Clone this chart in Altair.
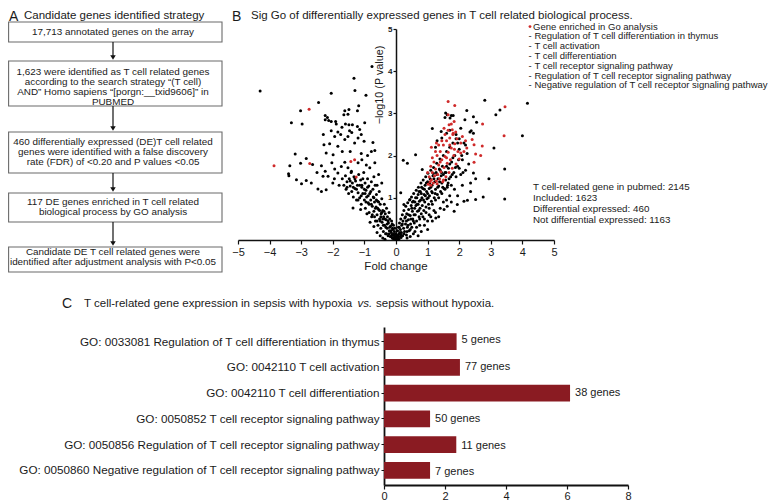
import altair as alt
import pandas as pd

FONT = "Liberation Sans"
W, H = 764, 494          # chart size (page minus the 8px margin at top/left)
INK = "#1a1a1a"
RED = "#cf2a2a"
BAR = "#8a1b22"

# ---------------- content ----------------
title_a = "Candidate genes identified strategy"
title_b = "Sig Go of differentially expressed genes in T cell related biological process."
title_c1 = "T cell-related gene expression in sepsis with hypoxia"
title_c2 = "vs."
title_c3 = "sepsis without hypoxia."

flow_lines = [
    ["17,713 annotated genes on the array"],
    ["1,623 were identified as T cell related genes",
     "according to the search strategy \u201c(T cell)",
     "AND\u201d Homo sapiens \u201c[porgn:__txid9606]\u201d in",
     "PUBMED"],
    ["460 differentially expressed (DE)T cell related",
     "genes were identified with a false discovery",
     "rate (FDR) of <0.20 and P values <0.05"],
    ["117 DE genes enriched in T cell related",
     "biological process by GO analysis"],
    ["Candidate DE T cell related genes were",
     "identified after adjustment analysis with P<0.05"],
]

legend_items = [
    "Gene enriched in Go analysis",
    "Regulation of T cell differentiation in thymus",
    "T cell activation",
    "T cell differentiation",
    "T cell receptor signaling pathway",
    "Regulation of T cell receptor signaling pathway",
    "Negative regulation of T cell receptor signaling pathway",
]
stats_lines = [
    "T cell-related gene in pubmed: 2145",
    "Included: 1623",
    "Differential expressed: 460",
    "Not differential expressed: 1163",
]

go_terms = [
    "GO: 0033081 Regulation of T cell differentiation in thymus",
    "GO: 0042110 T cell activation",
    "GO: 0042110 T cell differentiation",
    "GO: 0050852 T cell receptor signaling pathway",
    "GO: 0050856 Regulation of T cell receptor signaling pathway",
    "GO: 0050860 Negative regulation of T cell receptor signaling pathway",
]
go_values = [2.38, 2.49, 6.1, 1.51, 2.37, 1.51]
go_labels = ["5 genes", "77 genes", "38 genes", "50 genes", "11 genes", "7 genes"]

# volcano points (fold change, -log10 P)
pts_other = [
    (-4.30, 3.53), (-3.31, 2.78), (-3.02, 3.06), (-2.97, 2.75), (-2.45, 3.26), (-2.05, 3.48),
    (-1.33, 3.83), (-1.30, 3.54), (-0.95, 3.43), (-0.76, 4.11), (-1.18, 3.18), (-1.22, 3.06),
    (-1.49, 3.09), (-1.62, 3.06), (-1.65, 2.97), (-1.52, 2.98), (-2.24, 2.95), (-2.17, 2.90),
    (-2.24, 2.85), (-2.13, 2.83), (-2.05, 2.81), (-1.91, 2.81), (-1.89, 2.75), (-0.99, 2.78),
    (-1.38, 2.73), (-1.22, 2.69), (-1.60, 2.75), (-1.49, 2.73), (-1.71, 2.67), (-2.05, 2.59),
    (-1.84, 2.56), (-1.47, 2.59), (-1.94, 2.45), (-1.62, 2.38), (-1.52, 2.45), (-1.31, 2.30),
    (-1.20, 2.42), (-1.01, 2.34), (-0.73, 2.31), (-0.67, 2.12), (-0.78, 2.10), (-1.75, 2.50),
    (-1.40, 2.55), (-1.10, 2.50), (-2.30, 2.50), (-1.15, 2.62),
    (-3.36, 1.76), (-3.19, 2.04), (-3.02, 1.82), (-2.84, 1.93), (-2.64, 1.79), (-3.40, 1.57),
    (-3.39, 1.52), (-3.15, 1.43), (-2.99, 1.33), (-2.84, 1.41), (-2.68, 1.35), (-2.47, 1.21),
    (-2.36, 1.15), (-2.21, 1.19), (-2.28, 2.26), (-2.10, 2.28), (-2.21, 2.06), (-1.99, 2.02),
    (-1.84, 2.22), (-2.36, 1.76), (-2.24, 1.63), (-2.15, 1.51), (-2.31, 1.51), (-2.03, 1.83),
    (-1.94, 1.68), (-1.84, 1.59), (-1.73, 1.74), (-1.62, 1.84), (-1.52, 1.71), (-1.41, 1.63),
    (-1.20, 1.83), (-1.08, 1.90), (-0.94, 1.78), (-0.83, 1.71), (-0.67, 1.83), (-1.10, 2.05),
    (-0.90, 2.00), (-1.45, 2.10), (-1.70, 2.10), (-2.50, 1.60), (-2.00, 1.35), (-1.80, 1.30),
    (-0.55, 1.55), (-0.60, 1.30), (-0.45, 1.35), (-0.70, 1.50), (-1.95, 1.45),
    (-1.70, 1.45), (-1.65, 1.30), (-1.60, 1.52), (-1.58, 1.20), (-1.55, 1.38), (-1.50, 1.10),
    (-1.48, 1.45), (-1.45, 1.28), (-1.42, 1.60), (-1.40, 1.15), (-1.38, 1.35), (-1.35, 1.02),
    (-1.33, 1.50), (-1.30, 1.22), (-1.28, 1.40), (-1.25, 0.95), (-1.22, 1.30), (-1.20, 1.12),
    (-1.18, 1.55), (-1.15, 1.00), (-1.12, 1.42), (-1.10, 0.85), (-1.08, 1.25), (-1.05, 1.10),
    (-1.02, 1.60), (-1.00, 0.95), (-0.98, 1.35), (-0.97, 0.75), (-0.95, 1.18), (-0.93, 1.02),
    (-0.90, 1.45), (-0.88, 0.88), (-0.86, 1.28), (-0.85, 0.65), (-0.83, 1.10), (-0.80, 0.95),
    (-0.78, 1.38), (-0.77, 0.55), (-0.75, 0.80), (-0.73, 1.20), (-0.72, 1.02), (-0.70, 0.68),
    (-0.68, 0.90), (-0.66, 1.30), (-0.65, 0.45), (-0.63, 0.78), (-0.62, 1.08), (-0.60, 0.60),
    (-0.58, 0.92), (-0.57, 0.35), (-0.55, 0.72), (-0.53, 1.15), (-0.52, 0.50), (-0.50, 0.85),
    (-0.48, 0.28), (-0.47, 0.62), (-0.45, 0.98), (-0.44, 0.42), (-0.42, 0.70), (-0.40, 0.20),
    (-0.39, 0.55), (-0.37, 0.85), (-0.36, 0.35), (-0.34, 0.62), (-0.33, 0.15), (-0.31, 0.48),
    (-0.30, 0.75), (-0.28, 0.28), (-0.27, 0.55), (-0.25, 0.10), (-0.24, 0.40), (-0.22, 0.65),
    (-0.21, 0.22), (-0.20, 0.50), (-0.18, 0.08), (-0.17, 0.33), (-0.15, 0.18), (-0.14, 0.45),
    (-0.12, 0.05), (-0.11, 0.28), (-0.10, 0.12), (-0.08, 0.35), (-0.07, 0.03), (-0.05, 0.20),
    (-0.04, 0.08), (-0.02, 0.02), (-0.01, 0.15), (-1.12, 0.72), (-0.92, 0.62), (-0.82, 0.42),
    (-0.70, 0.32), (-0.60, 0.18), (-0.50, 0.10), (-0.42, 0.05), (-0.35, 0.02), (-1.36, 0.76),
    (-0.05, 0.12), (-0.10, 0.25), (-0.15, 0.08), (-0.20, 0.30), (-0.25, 0.45), (-0.30, 0.15),
    (-0.35, 0.50), (-0.40, 0.35), (-0.45, 0.65), (-0.50, 0.45), (-0.55, 0.90), (-0.60, 0.45),
    (-0.65, 0.75), (-0.70, 1.00), (-0.75, 0.60), (-0.80, 1.15), (-0.85, 0.85), (-0.90, 1.25),
    (-0.95, 0.90), (-1.00, 1.20), (-1.05, 1.45), (-1.10, 1.05), (-1.15, 1.30), (-1.20, 0.95),
    (-1.25, 1.20), (-1.30, 1.45), (-1.35, 1.25), (-1.45, 1.40), (-1.55, 1.25), (-0.22, 0.15),
    (-0.32, 0.30), (-0.38, 0.68), (-0.48, 0.55), (-0.58, 0.75), (-0.68, 0.55), (-0.78, 0.85),
    (-0.88, 1.05), (-0.98, 1.10), (-1.08, 1.30), (-0.62, 0.95), (-0.52, 0.70), (-0.42, 0.50),
    (-0.28, 0.38), (-0.16, 0.22), (-0.08, 0.15), (-0.04, 0.28), (-0.12, 0.38),
    (-0.06, 0.06), (0.01, 0.08), (0.03, 0.01), (-0.03, 0.05), (0.06, 0.10), (0.09, 0.02),
    (-0.09, 0.04), (0.12, 0.18), (-0.13, 0.12), (0.16, 0.06),
    (0.02, 0.03), (0.04, 0.12), (0.05, 0.22), (0.07, 0.05), (0.08, 0.30), (0.10, 0.15),
    (0.11, 0.40), (0.13, 0.08), (0.14, 0.25), (0.15, 0.50), (0.17, 0.18), (0.18, 0.35),
    (0.20, 0.60), (0.21, 0.10), (0.22, 0.45), (0.24, 0.28), (0.25, 0.70), (0.27, 0.20),
    (0.28, 0.52), (0.30, 0.38), (0.31, 0.80), (0.33, 0.12), (0.34, 0.62), (0.36, 0.30),
    (0.37, 0.88), (0.39, 0.48), (0.40, 0.72), (0.42, 0.22), (0.43, 0.95), (0.45, 0.58),
    (0.46, 0.38), (0.48, 0.82), (0.49, 1.02), (0.50, 0.30), (0.52, 0.68), (0.53, 0.50),
    (0.55, 0.92), (0.56, 1.10), (0.58, 0.40), (0.59, 0.75), (0.61, 0.60), (0.62, 1.00),
    (0.64, 1.18), (0.65, 0.45), (0.67, 0.85), (0.68, 0.68), (0.70, 1.08), (0.71, 1.25),
    (0.73, 0.55), (0.74, 0.92), (0.76, 0.75), (0.77, 1.15), (0.79, 1.35), (0.80, 0.62),
    (0.82, 1.00), (0.83, 0.82), (0.85, 1.22), (0.86, 1.42), (0.88, 0.70), (0.89, 1.08),
    (0.91, 0.90), (0.92, 1.30), (0.94, 1.50), (0.95, 0.78), (0.97, 1.15), (0.98, 0.98),
    (1.00, 1.38), (1.01, 1.58), (1.03, 0.85), (1.05, 1.22), (1.06, 1.05), (1.08, 1.45),
    (1.10, 1.65), (1.12, 0.92), (1.14, 1.30), (1.15, 1.12), (1.17, 1.52), (1.19, 1.72),
    (1.21, 1.00), (1.23, 1.38), (1.25, 1.20), (1.27, 1.60), (1.29, 1.82), (1.31, 1.08),
    (1.33, 1.45), (1.35, 1.28), (1.37, 1.68), (1.39, 1.92), (1.41, 1.15), (1.43, 1.52),
    (1.45, 1.35), (1.47, 1.75), (1.50, 2.00), (1.52, 1.22), (1.55, 1.60), (1.57, 1.42),
    (1.60, 2.10), (1.63, 1.30), (1.66, 1.70), (1.70, 2.20), (1.73, 1.50), (1.76, 1.85),
    (1.80, 2.30), (1.83, 1.60), (1.86, 2.00), (1.90, 2.40), (1.95, 1.75), (2.00, 2.15),
    (2.05, 1.55), (2.10, 1.90), (2.15, 2.30), (2.20, 1.65), (2.25, 2.05), (2.30, 1.80),
    (0.60, 0.20), (0.75, 0.35), (0.90, 0.50), (1.05, 0.60), (1.20, 0.70), (1.35, 0.55),
    (1.50, 0.90), (1.70, 1.05), (1.85, 1.20), (1.95, 1.05), (2.10, 1.30), (1.15, 0.45),
    (0.55, 0.15),
    (0.05, 0.05), (0.10, 0.30), (0.15, 0.12), (0.20, 0.38), (0.25, 0.15), (0.30, 0.55),
    (0.35, 0.20), (0.40, 0.60), (0.45, 0.25), (0.50, 0.75), (0.55, 0.45), (0.60, 0.90),
    (0.65, 0.30), (0.70, 0.85), (0.75, 0.50), (0.80, 1.10), (0.85, 0.55), (0.90, 1.20),
    (0.95, 0.65), (1.00, 1.10), (1.05, 0.75), (1.10, 1.25), (1.15, 0.85), (1.20, 1.45),
    (1.25, 0.95), (1.30, 1.55), (1.35, 1.00), (1.40, 1.65), (1.45, 1.10), (1.50, 1.55),
    (1.55, 1.20), (1.60, 1.75), (1.65, 1.35), (1.70, 1.80), (1.75, 1.30), (1.80, 1.95),
    (1.90, 1.50), (2.00, 1.70), (0.33, 0.45), (0.38, 0.35), (0.47, 0.50), (0.52, 0.90),
    (0.57, 0.60), (0.63, 0.82), (0.66, 1.00), (0.72, 0.70), (0.78, 0.95), (0.81, 1.25),
    (0.87, 0.95), (0.93, 1.05), (0.96, 1.35), (1.02, 1.00), (1.07, 1.35), (1.13, 1.15),
    (1.18, 1.58), (1.24, 1.10), (1.32, 1.25), (1.38, 1.38), (1.44, 1.60), (1.48, 1.25),
    (1.58, 1.60), (1.62, 1.25), (1.68, 1.45), (1.78, 1.55), (1.88, 1.72), (1.98, 1.90),
    (2.08, 2.00), (2.12, 1.60), (0.90, 0.35), (1.00, 0.45), (1.10, 0.55), (1.25, 0.65),
    (1.40, 0.75), (1.60, 0.95), (1.75, 0.90), (1.00, 0.25), (0.80, 0.20), (0.70, 0.10),
    (0.45, 0.08), (0.35, 0.05),
    (1.57, 3.01), (1.62, 2.97), (1.75, 2.95), (1.81, 2.95), (1.71, 2.89), (1.55, 2.90),
    (2.45, 2.92), (2.18, 2.85), (2.55, 2.79), (1.15, 2.64), (1.43, 2.57), (1.60, 2.53),
    (2.38, 2.59), (2.45, 2.53), (2.34, 2.56), (2.81, 3.31), (2.24, 3.07), (4.16, 3.24),
    (3.29, 3.08), (3.16, 2.97), (4.00, 2.47), (3.10, 2.18), (3.44, 1.68), (2.94, 1.45),
    (2.76, 1.02), (3.44, 0.97), (2.36, 1.15), (2.52, 0.96), (2.15, 0.92), (2.26, 0.94),
    (2.45, 1.59), (2.52, 1.45), (2.36, 1.35), (0.23, 1.89), (0.36, 1.82), (0.62, 2.02),
    (0.83, 1.67), (0.73, 1.15), (0.15, 1.12), (0.25, 0.84), (0.44, 0.96), (1.52, 0.72),
    (1.26, 0.52), (1.84, 0.68), (1.94, 0.84), (1.62, 0.80), (1.30, 2.35), (1.45, 2.42),
    (1.90, 2.50), (2.05, 2.65), (2.00, 2.40), (1.70, 2.60), (1.25, 2.20), (2.20, 2.25),
    (1.95, 2.30),
]
pts_go = [
    (1.65, 3.28), (1.86, 3.19), (3.45, 3.16), (1.65, 2.97), (1.84, 2.81), (1.75, 2.75),
    (1.68, 2.73), (1.52, 2.65), (2.74, 2.75), (1.78, 2.61), (1.89, 2.56), (1.81, 2.53),
    (3.42, 2.47), (2.47, 1.84), (2.68, 2.00), (2.73, 2.23), (2.47, 2.26), (2.24, 2.18),
    (2.52, 2.04), (2.05, 2.06), (2.41, 2.38),
    (-2.75, 3.10), (-3.86, 1.76), (-2.73, 1.81), (-1.43, 1.86), (-1.31, 1.90), (-1.26, 1.49),
    (1.02, 1.32), (1.05, 1.50), (1.08, 1.38), (1.10, 1.75), (1.12, 1.42), (1.15, 1.60),
    (1.18, 1.35), (1.20, 1.85), (1.22, 1.52), (1.25, 1.68), (1.28, 1.40), (1.30, 2.00),
    (1.32, 1.55), (1.35, 1.78), (1.38, 1.45), (1.40, 2.10), (1.42, 1.62), (1.45, 1.90),
    (1.48, 1.38), (1.50, 2.25), (1.52, 1.72), (1.55, 1.98), (1.58, 1.50), (1.60, 2.35),
    (1.62, 1.82), (1.65, 2.08), (1.68, 1.60), (1.70, 2.42), (1.72, 1.90), (1.75, 2.18),
    (1.78, 1.70), (1.80, 2.50), (1.83, 2.00), (1.86, 2.28), (1.90, 1.80), (1.93, 2.40),
    (1.96, 2.10), (2.00, 1.92), (2.05, 2.30), (2.10, 2.45), (2.15, 2.10), (2.20, 2.35),
    (1.15, 1.95), (1.25, 2.10), (1.35, 2.25), (1.45, 2.35), (1.55, 2.50), (1.65, 2.60),
    (1.10, 1.30), (1.30, 1.33), (1.50, 1.42), (1.40, 1.85), (1.60, 1.95), (1.70, 2.25),
    (1.85, 2.15), (1.00, 1.60), (1.12, 2.20), (1.28, 2.30),
]

# ---------------- layout (page pixel coordinates) ----------------
PAGE_X = alt.Scale(domain=[8, 8 + W], range=[0, W], nice=False, zero=False)
PAGE_Y = alt.Scale(domain=[8, 8 + H], range=[0, H], nice=False, zero=False)


def px(field):
    return alt.X(field, type="quantitative", scale=PAGE_X, axis=None)


def py(field):
    return alt.Y(field, type="quantitative", scale=PAGE_Y, axis=None)


def text_layer(df, size, align="left", **kw):
    return alt.Chart(df).mark_text(font=FONT, fontSize=size, color=INK, align=align,
                                   baseline="middle", **kw).encode(x=px("x"), y=py("y"), text="text:N")


box_top = [22, 61, 132, 193, 247]
box_bot = [42, 106, 173, 222, 272]
first_line = [32, 71.5, 141.7, 201.7, 251.7]
FLOW_CX = 113

boxes = pd.DataFrame({"x1": [8.6] * 5, "x2": [222] * 5, "y1": box_top, "y2": box_bot})
rows = []
for i, lines in enumerate(flow_lines):
    for j, t in enumerate(lines):
        rows.append({"x": FLOW_CX, "y": first_line[i] + j * 10, "text": t})
flow_text = pd.DataFrame(rows)
arrows = pd.DataFrame({"x": [FLOW_CX] * 4, "y1": box_bot[:4], "y2": [t - 4 for t in box_top[1:]],
                       "yh": [t - 3.5 for t in box_top[1:]]})

layers = []
layers.append(alt.Chart(boxes).mark_rect(fill="white", stroke="#6b6b6b", strokeWidth=1.1).encode(
    x=px("x1"), x2="x2", y=py("y1"), y2="y2"))
layers.append(text_layer(flow_text, 9.9, align="center"))
layers.append(alt.Chart(arrows).mark_rule(color="#111", strokeWidth=1.2).encode(
    x=px("x"), y=py("y1"), y2="y2"))
layers.append(alt.Chart(arrows).mark_point(shape="triangle-down", filled=True, color="#111", size=30,
                                           opacity=1).encode(x=px("x"), y=py("yh")))

# panel titles
layers.append(text_layer(pd.DataFrame([
    {"x": 9, "y": 16.5, "text": "A"},
    {"x": 232, "y": 16.5, "text": "B"},
    {"x": 62, "y": 303.5, "text": "C"},
]), 14))
layers.append(text_layer(pd.DataFrame([
    {"x": 24, "y": 16, "text": title_a},
    {"x": 251, "y": 16, "text": title_b},
    {"x": 84, "y": 303.5, "text": title_c1},
    {"x": 376, "y": 303.5, "text": title_c3},
]), 11.5))
layers.append(text_layer(pd.DataFrame([{"x": 357.5, "y": 303.5, "text": title_c2}]), 11.5,
                         fontStyle="italic"))

# volcano legend + stats + axis titles
leg_y = [26.6, 36.4, 46.2, 56.0, 65.8, 75.6, 85.4]
layers.append(text_layer(pd.DataFrame({"x": [533] + [534.5] * 6, "y": leg_y, "text": legend_items}), 9.5))
layers.append(text_layer(pd.DataFrame({"x": [530] * 6, "y": leg_y[1:], "text": ["-"] * 6}), 9.5,
                         align="center"))
layers.append(alt.Chart(pd.DataFrame([{"x": 530, "y": leg_y[0]}])).mark_circle(
    color=RED, size=8, opacity=1).encode(x=px("x"), y=py("y")))
layers.append(text_layer(pd.DataFrame({"x": [533] * 4, "y": [186.7, 197.7, 209, 220],
                                       "text": stats_lines}), 9.8))
layers.append(text_layer(pd.DataFrame([{"x": 396, "y": 267, "text": "Fold change"}]), 11.5,
                         align="center"))
layers.append(text_layer(pd.DataFrame([{"x": 380, "y": 85, "text": "\u2212log10 (P value)"}]), 10.8,
                         align="center", angle=270))

# ---------------- volcano plot ----------------
vdf = pd.DataFrame(
    [{"fold": a, "logp": b, "grp": "other"} for a, b in pts_other]
    + [{"fold": a, "logp": b, "grp": "go"} for a, b in pts_go])
VX = alt.Scale(domain=[-5, 5], range=[238 - 8, 554 - 8], nice=False, zero=False)
VY = alt.Scale(domain=[0, 5], range=[240 - 8, 29 - 8], nice=False, zero=False)
volcano = alt.Chart(vdf).mark_circle(size=9, opacity=1).encode(
    x=alt.X("fold:Q", scale=VX, axis=alt.Axis(
        orient="bottom", offset=(240 - 8) - H, values=list(range(-5, 6)), title=None, grid=False,
        domainColor="#111", domainWidth=1.5, tickColor="#111", tickWidth=1.2, tickSize=4,
        labelFont=FONT, labelFontSize=11, labelColor=INK, labelPadding=2, labelFlush=False)),
    y=alt.Y("logp:Q", scale=VY, axis=alt.Axis(
        orient="left", offset=-(396 - 8), values=[1, 2, 3, 4, 5], title=None, grid=False,
        domainColor="#111", domainWidth=1.5, tickColor="#111", tickWidth=1.2, tickSize=3,
        labelFont=FONT, labelFontSize=8, labelFontWeight="bold", labelColor=INK, labelPadding=1,
        labelFlush=False)),
    color=alt.Color("grp:N", scale=alt.Scale(domain=["other", "go"], range=["#000000", RED]), legend=None),
)
layers.append(volcano)

# ---------------- bar chart ----------------
bdf = pd.DataFrame({"term": go_terms, "value": go_values, "label": go_labels})
BAR_TOP, BAR_AXIS = 327, 485
BX = alt.Scale(domain=[0, 8], range=[384 - 8, 628 - 8], nice=False, zero=False)
BY = alt.Scale(domain=go_terms, range=[BAR_TOP - 8, BAR_AXIS - 8], paddingInner=0.35, paddingOuter=0.24)
bars = alt.Chart(bdf).mark_bar(color=BAR).encode(
    x=alt.X("value:Q", scale=BX, axis=alt.Axis(
        orient="bottom", offset=(BAR_AXIS - 8) - H, values=[0, 2, 4, 6, 8], title=None, grid=False,
        domainColor="#111", domainWidth=1.8, tickColor="#111", tickWidth=1.2, tickSize=4,
        labelFont=FONT, labelFontSize=11, labelColor=INK, labelPadding=1, labelFlush=False)),
    y=alt.Y("term:N", sort=go_terms, scale=BY, axis=alt.Axis(
        orient="left", offset=-(384 - 8), title=None, grid=False,
        domainColor="#111", domainWidth=1.8, tickColor="#111", tickWidth=1, tickSize=3,
        labelFont=FONT, labelFontSize=11.7, labelColor=INK, labelPadding=2, labelLimit=500)),
)
bar_text = alt.Chart(bdf).mark_text(font=FONT, fontSize=11, color=INK, align="left",
                                    baseline="middle", dx=5).encode(
    x=alt.X("value:Q", scale=BX, axis=None),
    y=alt.Y("term:N", sort=go_terms, scale=BY, axis=None),
    text="label:N")
layers.append(bars)
layers.append(bar_text)

chart = alt.layer(*layers).resolve_scale(x="independent", y="independent", color="independent").properties(
    width=W, height=H, autosize="none", padding=0
).configure_view(stroke=None)

chart.save("out.html", embed_options={"renderer": "svg", "actions": False})
